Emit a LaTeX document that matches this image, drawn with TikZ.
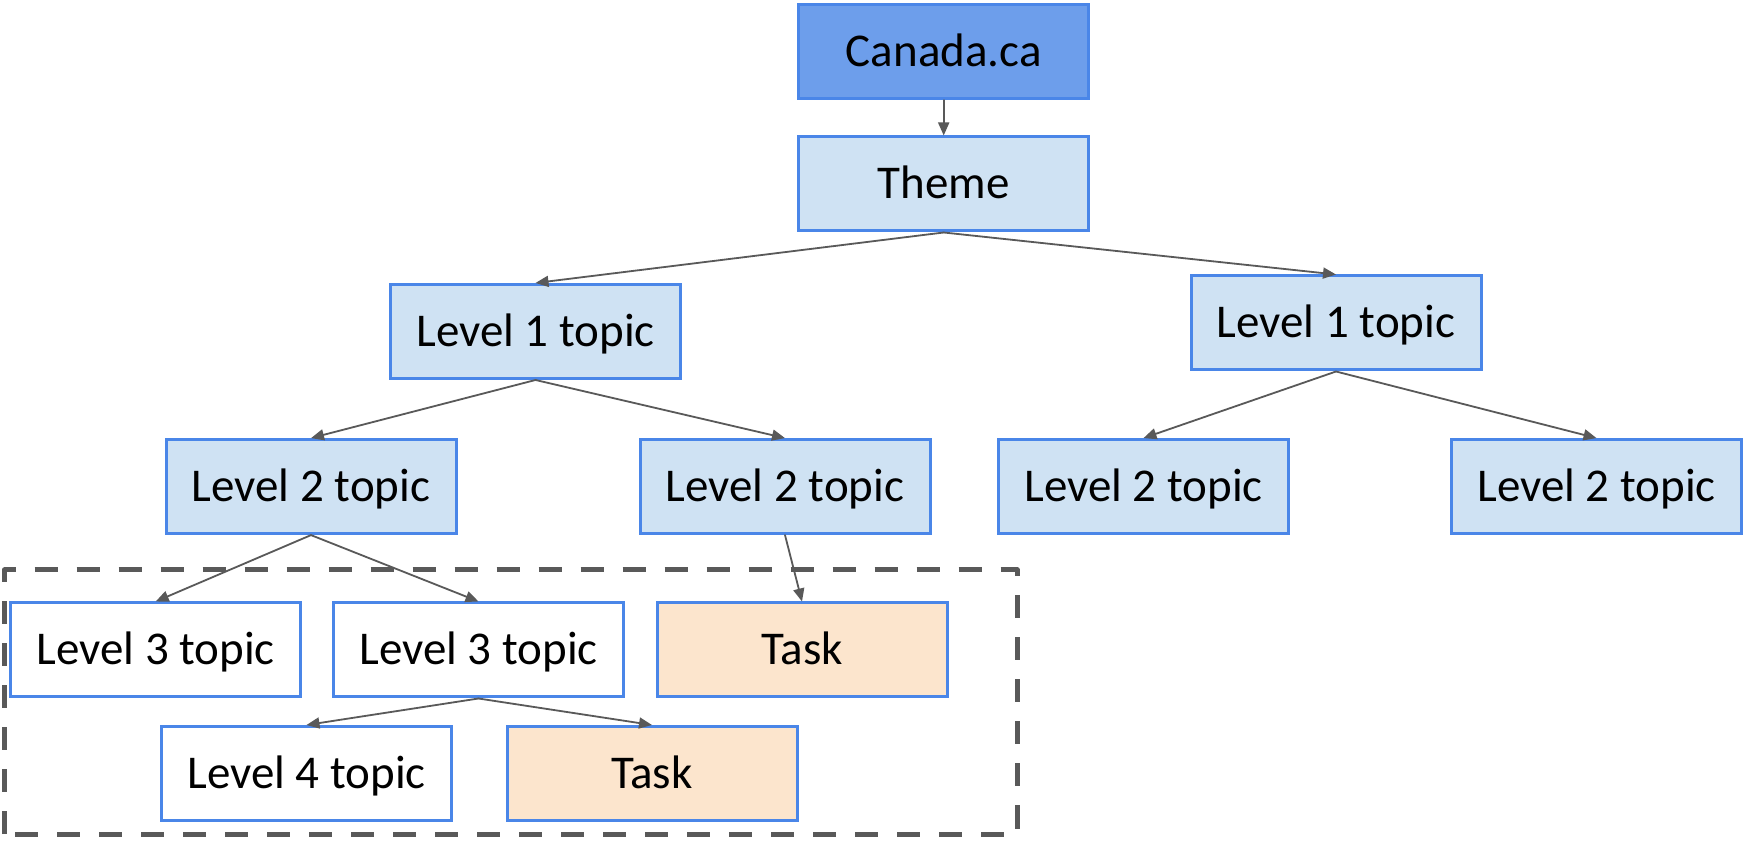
\documentclass[tikz,border=0pt]{standalone}
\usepackage{fontspec}
\setmainfont{Carlito}
\usetikzlibrary{arrows.meta}
\begin{document}
\begin{tikzpicture}[x=1pt,y=1pt,
  box/.style={draw=borderColor,line width=3pt,fill=white,minimum width=290pt,minimum height=94pt,
    inner sep=0pt,text height=30pt,text depth=0pt,font=\fontsize{47}{56}\selectfont},
  topbox/.style={box,fill=topColor},
  topicbox/.style={box,fill=topicColor},
  taskbox/.style={box,fill=taskColor},
  link/.style={draw=lineColor,line width=1.8pt,line join=round,line cap=round,-{Triangle[length=13pt,width=11pt]}}]
\definecolor{borderColor}{RGB}{74,134,232}
\definecolor{topColor}{RGB}{109,158,235}
\definecolor{topicColor}{RGB}{207,226,243}
\definecolor{taskColor}{RGB}{252,229,205}
\definecolor{lineColor}{RGB}{89,89,89}
\path[use as bounding box,fill=white] (0,0) rectangle (1744,840);

% group round the lower levels
\path[draw=lineColor,line width=5pt,line join=round,dash pattern=on 23pt off 19pt] (4.5,6) rectangle (1017,270);

\node[topbox] (canada) at (943.7,788.3) {Canada.ca};
\node[topicbox] (theme) at (943.7,656) {Theme};

\node[topicbox] (lvlOneA) at (535.5,508.5) {Level 1 topic};
\node[topicbox] (lvlOneB) at (1336,517) {Level 1 topic};

\node[topicbox] (lvlTwoA) at (311,353.4) {Level 2 topic};
\node[topicbox] (lvlTwoB) at (785,353.4) {Level 2 topic};
\node[topicbox] (lvlTwoC) at (1143.5,353.4) {Level 2 topic};
\node[topicbox] (lvlTwoD) at (1596.5,353.4) {Level 2 topic};

\node[box] (lvlThreeA) at (155.7,190) {Level 3 topic};
\node[box] (lvlThreeB) at (478.5,190) {Level 3 topic};
\node[taskbox] (taskA) at (802,190) {Task};

\node[box] (lvlFour) at (306.5,66.5) {Level 4 topic};
\node[taskbox] (taskB) at (652,66.5) {Task};

\path[link] (canada.south) -- (theme.north);
\path[link] (theme.south) -- (lvlOneA.north);
\path[link] (theme.south) -- (lvlOneB.north);
\path[link] (lvlOneA.south) -- (lvlTwoA.north);
\path[link] (lvlOneA.south) -- (lvlTwoB.north);
\path[link] (lvlOneB.south) -- (lvlTwoC.north);
\path[link] (lvlOneB.south) -- (lvlTwoD.north);
\path[link] (lvlTwoA.south) -- (lvlThreeA.north);
\path[link] (lvlTwoA.south) -- (lvlThreeB.north);
\path[link] (lvlTwoB.south) -- (taskA.north);
\path[link] (lvlThreeB.south) -- (lvlFour.north);
\path[link] (lvlThreeB.south) -- (taskB.north);
\end{tikzpicture}
\end{document}
